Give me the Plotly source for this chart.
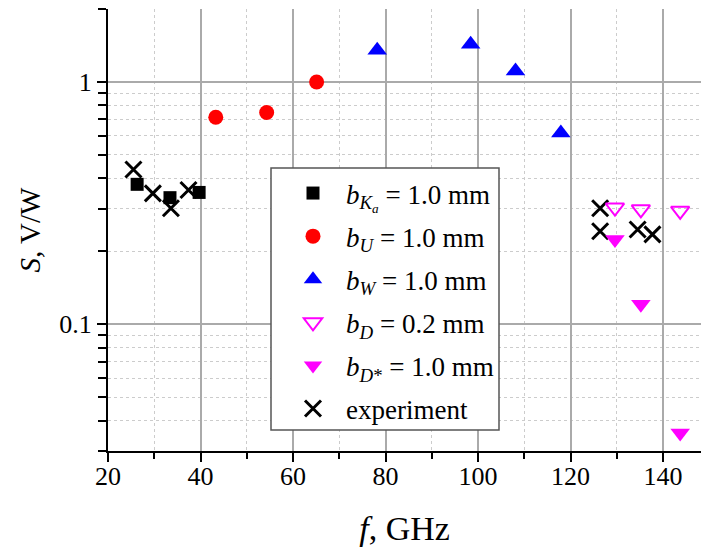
import plotly.graph_objects as go

# ---- data ----
ka_f = [26.3, 33.4, 39.7]
ka_s = [0.378, 0.333, 0.350]
u_f = [43.3, 54.3, 65.1]
u_s = [0.715, 0.748, 1.0]
w_f = [78.2, 98.4, 108.1, 117.9]
w_s = [1.35, 1.43, 1.11, 0.615]
d_f = [129.6, 135.2, 143.7]
d_s = [0.303, 0.298, 0.294]
ds_f = [129.6, 135.2, 143.7]
ds_s = [0.224, 0.121, 0.0356]
exp_f = [25.5, 29.7, 33.6, 37.4, 126.4, 126.4, 134.5, 137.7]
exp_s = [0.435, 0.347, 0.301, 0.358, 0.301, 0.242, 0.246, 0.235]

x_ticks = [20, 40, 60, 80, 100, 120, 140]

FONT = "Liberation Serif"

# plot-area pixel geometry (for placing the legend box)
PL, PR, PT, PB = 108, 701, 9, 451
def px_x(p):
    return (p - PL) / (PR - PL)
def px_y(p):
    return (PB - p) / (PB - PT)

fig = go.Figure()

fig.add_trace(go.Scatter(
    x=exp_f, y=exp_s, mode="markers", name="experiment",
    legendgroup="g6", legendrank=6,
    marker=dict(symbol="x-thin", size=16, color="black",
                line=dict(color="black", width=3))))
fig.add_trace(go.Scatter(
    x=ka_f, y=ka_s, mode="markers",
    name="<i>b</i><sub><i>K<sub>a</sub></i></sub> = 1.0 mm",
    legendgroup="g1", legendrank=1,
    marker=dict(symbol="square", size=13, color="black")))
fig.add_trace(go.Scatter(
    x=u_f, y=u_s, mode="markers",
    name="<i>b<sub>U</sub></i> = 1.0 mm",
    legendgroup="g2", legendrank=2,
    marker=dict(symbol="circle", size=15, color="#ff0000")))
fig.add_trace(go.Scatter(
    x=w_f, y=w_s, mode="markers",
    name="<i>b<sub>W</sub></i> = 1.0 mm",
    legendgroup="g3", legendrank=3,
    marker=dict(symbol="triangle-up", size=17, color="#0000ff")))
fig.add_trace(go.Scatter(
    x=d_f, y=d_s, mode="markers",
    name="<i>b<sub>D</sub></i> = 0.2 mm",
    legendgroup="g4", legendrank=4,
    marker=dict(symbol="triangle-down-open", size=16, color="#ff00ff",
                line=dict(color="#ff00ff", width=2))))
fig.add_trace(go.Scatter(
    x=ds_f, y=ds_s, mode="markers",
    name="<i>b<sub>D</sub></i><sub>*</sub> = 1.0 mm",
    legendgroup="g5", legendrank=5,
    marker=dict(symbol="triangle-down", size=17, color="#ff00ff")))

fig.update_layout(
    width=701, height=547,
    margin=dict(l=PL, r=701 - PR, t=PT, b=547 - PB),
    paper_bgcolor="white", plot_bgcolor="white",
    font=dict(family=FONT, size=26, color="black"),
    showlegend=True,
    legend=dict(
        x=px_x(280), y=px_y(169),
        xanchor="left", yanchor="top",
        bgcolor="rgba(0,0,0,0)", borderwidth=0,
        font=dict(family=FONT, size=27, color="black"),
        tracegroupgap=5, itemwidth=56,
        traceorder="grouped",
    ),
    shapes=[dict(type="rect", xref="paper", yref="paper", layer="above",
                 x0=px_x(271), x1=px_x(499), y0=px_y(430), y1=px_y(168),
                 fillcolor="white", line=dict(color="#555555", width=1.5))],
)

fig.update_xaxes(
    range=[20, 148.2],
    tickmode="array", tickvals=x_ticks, ticktext=[str(v) for v in x_ticks],
    showline=True, linecolor="black", linewidth=2,
    ticks="outside", ticklen=9, tickwidth=2, tickcolor="black",
    showgrid=True, gridcolor="#aaaaaa", gridwidth=1.5,
    zeroline=False,
    tickfont=dict(family=FONT, size=26),
    ticklabelstandoff=-8,
    minor=dict(dtick=10, tick0=20, ticks="outside", ticklen=6, tickwidth=1.5,
               tickcolor="black", showgrid=True, gridcolor="#cccccc",
               gridwidth=1, griddash="3px,3px"),
    title=dict(text="<i>f</i>, GHz", font=dict(family=FONT, size=34), standoff=33),
)

fig.update_yaxes(
    type="log", range=[-1.5229, 0.3010],
    tickmode="array", tickvals=[0.1, 1], ticktext=["0.1", "1"],
    showline=True, linecolor="black", linewidth=2,
    ticks="outside", ticklen=9, tickwidth=2, tickcolor="black",
    showgrid=True, gridcolor="#aaaaaa", gridwidth=1.5,
    zeroline=False,
    tickfont=dict(family=FONT, size=26),
    minor=dict(tickmode="array",
               tickvals=[0.03, 0.04, 0.05, 0.06, 0.07, 0.08, 0.09,
                         0.2, 0.3, 0.4, 0.5, 0.6, 0.7, 0.8, 0.9, 2],
               ticks="outside", ticklen=8, tickwidth=2, tickcolor="black",
               showgrid=True, gridcolor="#cccccc", gridwidth=1,
               griddash="3px,3px"),
    title=dict(text="<i>S</i>, V/W", font=dict(family=FONT, size=29), standoff=10),
)

fig.write_html("out.html")
